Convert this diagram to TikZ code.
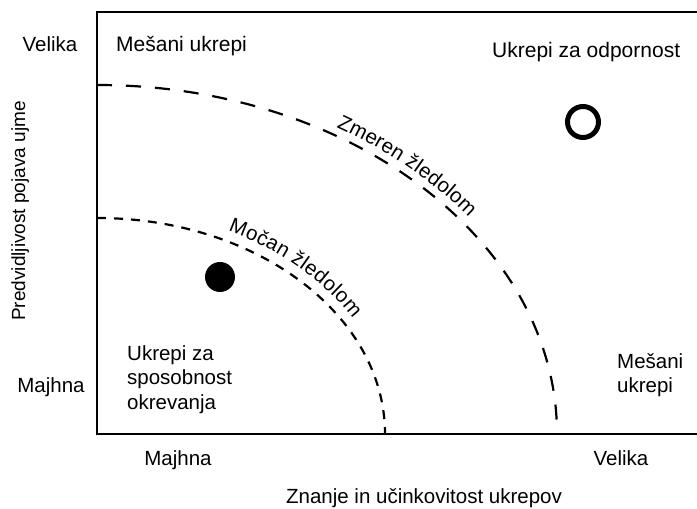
\documentclass[tikz,border=0pt]{standalone}
\usepackage{fontspec}
\setmainfont{Liberation Sans}
\usetikzlibrary{decorations.text}
\newcommand\lblfont{\fontsize{20.5}{24.5}\selectfont}
\newcommand\bigfont{\fontsize{21}{25}\selectfont}
\newcommand\axfont{\fontsize{19}{23}\selectfont}
\tikzset{
  lbl/.style={font=\lblfont, inner sep=0pt},
  biglbl/.style={font=\bigfont, inner sep=0pt},
  axlbl/.style={font=\axfont, inner sep=0pt},
  frame/.style={line width=2.3pt},
  bigarc/.style={line width=2.2pt, dash pattern=on 15pt off 14pt},
  smallarc/.style={line width=2.2pt, dash pattern=on 9pt off 8pt},
  dot/.style={circle, fill=black, minimum size=30pt, inner sep=0pt},
  ring/.style={circle, draw=black, line width=5pt, minimum size=31pt, inner sep=0pt},
}
\begin{document}
\begin{tikzpicture}[x=1pt,y=1pt]
\useasboundingbox (0,0) rectangle (697,509);
% frame
\coordinate (tr) at (698,497);
\coordinate (tl) at (97,497);
\coordinate (bl) at (97,75);
\coordinate (br) at (698,75);
\draw[frame] (tr) -- (tl) -- (bl) -- (br);
% arcs
\coordinate (bigstart) at (97,424);
\coordinate (smallstart) at (97,291);
\draw[bigarc] (bigstart) arc[start angle=90, end angle=0, x radius=460pt, y radius=349pt];
\draw[smallarc] (smallstart) arc[start angle=90, end angle=0, x radius=288pt, y radius=216pt];
\path[decorate, decoration={text along path, text={|\lblfont|Zmeren žledolom}, text align={left indent=243pt}, raise=8pt}]
  (bigstart) arc[start angle=90, end angle=0, x radius=460pt, y radius=349pt];
\path[decorate, decoration={text along path, text={|\lblfont|Močan žledolom}, text align={left indent=130pt}, raise=10pt}]
  (smallstart) arc[start angle=90, end angle=0, x radius=288pt, y radius=216pt];
% labels
\node[lbl, anchor=base] (vl) at (50,457) {Velika};
\node[biglbl, anchor=base west] (mu1) at (116,457) {Mešani ukrepi};
\node[biglbl, anchor=base west] (uo) at (492,451) {Ukrepi za odpornost};
\node[lbl, anchor=base] (ml) at (51,116) {Majhna};
\node[axlbl, anchor=base, rotate=90] (yl) at (25,298) {Predvidljivost pojava ujme};
\node[lbl, anchor=base] (mb) at (178,43) {Majhna};
\node[lbl, anchor=base] (vb) at (621,43) {Velika};
\node[lbl, anchor=base] (xl) at (424,5) {Znanje in učinkovitost ukrepov};
\node[lbl, anchor=north west, align=left] (usr) at (127,164) {Ukrepi za\\sposobnost\\okrevanja};
\node[lbl, anchor=north west, align=left] (mu2) at (617,156) {Mešani\\ukrepi};
% markers
\node[dot] (fc) at (220,232) {};
\node[ring] (oc) at (583,387) {};
\end{tikzpicture}
\end{document}
